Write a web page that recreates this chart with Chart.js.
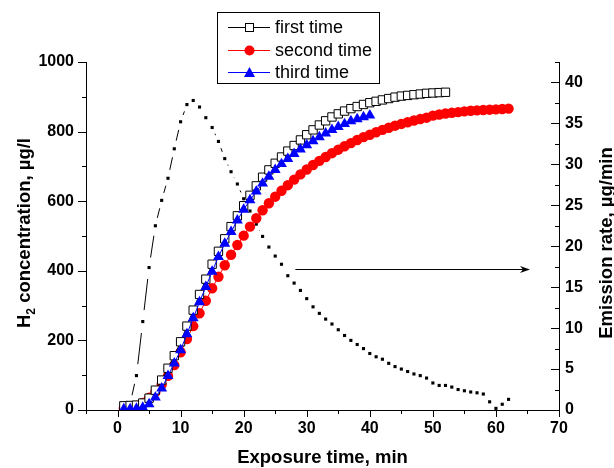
<!DOCTYPE html>
<html>
<head>
<meta charset="utf-8">
<script src="https://cdn.jsdelivr.net/npm/chart.js@4.4.1/dist/chart.umd.min.js"></script>
<style>
  html, body { margin: 0; padding: 0; background: #fff; }
</style>
</head>
<body>
<canvas id="chart" width="614" height="468"></canvas>
<script>
// exposure time, min
const minutes = [1, 2, 3, 4, 5, 6, 7, 8, 9, 10, 11, 12, 13, 14, 15, 16, 17, 18, 19, 20,
  21, 22, 23, 24, 25, 26, 27, 28, 29, 30, 31, 32, 33, 34, 35, 36, 37, 38, 39, 40,
  41, 42, 43, 44, 45, 46, 47, 48, 49, 50, 51, 52, 53, 54, 55, 56, 57, 58, 59, 60, 61, 62];

// H2 concentration, ug/l
const firstTime = [12, 13, 14, 20, 34, 57, 86, 120, 156, 196, 241, 287, 332, 376, 419, 456, 492, 527, 558, 587,
  617, 644, 669, 690, 709, 727, 744, 760, 776, 791, 805, 819, 831, 842, 851, 859, 866, 872, 878, 883,
  887, 891, 895, 899, 902, 904, 906, 908, 910, 911, 912, 913];
const secondTime = [5, 8, 12, 20, 35, 52, 73, 98, 129, 166, 204, 241, 278, 314, 350, 383, 416, 446, 474, 501,
  527, 551, 574, 594, 613, 630, 646, 662, 677, 691, 704, 716, 727, 738, 748, 758, 767, 776, 784, 791,
  798, 805, 811, 817, 822, 827, 832, 836, 840, 846, 849, 852, 854, 856, 858, 860, 861, 862, 863, 864, 865, 866];
const thirdTime = [3, 3, 4, 7, 17, 36, 62, 98, 134, 172, 218, 264, 310, 354, 398, 440, 478, 512, 545, 576,
  603, 628, 651, 671, 690, 707, 722, 736, 749, 761, 773, 784, 795, 805, 814, 822, 830, 836, 842, 847];

// emission rate, ug/min (right axis)
const emission = [0.7, 0.8, 4.2, 10.8, 17.4, 22.5, 25.6, 28.3, 31.9, 35.2, 37.3, 37.8, 37.0, 35.7, 34.5, 32.8, 30.7, 29.1, 27.6, 25.8,
  24.3, 22.7, 21.2, 19.9, 18.8, 17.8, 16.4, 15.5, 14.6, 13.6, 12.6, 11.8, 11.1, 10.5, 9.8, 9.1, 8.5, 8.0, 7.5, 6.9,
  6.5, 6.2, 5.7, 5.3, 5.0, 4.7, 4.4, 4.2, 3.9, 3.3, 3.0, 3.0, 2.8, 2.5, 2.35, 2.2, 2.1, 1.95, 1.0, 0.2, 0.7, 1.3];

const seriesNames = ["first time", "second time", "third time"];
const xTitle = "Exposure time, min";
const yTitle = [" concentration, \u00b5g/l"];
const y2Title = "Emission rate, \u00b5g/min";

const FONT = '"Liberation Sans", Arial, sans-serif';

function pts(vals) {
  return vals.map((v, i) => ({ x: minutes[i], y: v }));
}

// line with gaps around the small symbols
function segLen(c) {
  return Math.hypot(c.p1.x - c.p0.x, c.p1.y - c.p0.y);
}
function segGap(L) {
  return 5 + 0.12 * L;
}

const tickMarks = {
  id: 'tickMarks',
  afterDraw(chart) {
    const ctx = chart.ctx;
    const ca = chart.chartArea;
    ctx.save();
    ctx.strokeStyle = '#000';
    ctx.lineWidth = 1;
    ctx.beginPath();
    const sx = chart.scales.x;
    for (let v = -5; v <= 70; v += 5) {
      const px = Math.round(sx.getPixelForValue(v)) + 0.5;
      const len = v % 10 === 0 ? 7 : 4;
      ctx.moveTo(px, ca.bottom);
      ctx.lineTo(px, ca.bottom + len);
    }
    const sy = chart.scales.y;
    for (let v = 0; v <= 1000; v += 100) {
      const py = Math.round(sy.getPixelForValue(v)) + 0.5;
      const len = v % 200 === 0 ? 8 : 4;
      ctx.moveTo(ca.left, py);
      ctx.lineTo(ca.left - len, py);
    }
    const sy2 = chart.scales.y2;
    for (let v = 0; v <= 42.5; v += 2.5) {
      const py = Math.round(sy2.getPixelForValue(v)) + 0.5;
      const len = v % 5 === 0 ? 8 : 4;
      ctx.moveTo(ca.right, py);
      ctx.lineTo(ca.right - len, py);
    }
    ctx.stroke();

    // axis titles
    ctx.fillStyle = '#000';
    ctx.textBaseline = 'alphabetic';
    ctx.font = 'bold 18.5px ' + FONT;
    ctx.textAlign = 'center';
    ctx.fillText(xTitle, (ca.left + ca.right) / 2, 463);

    // left title with subscript
    ctx.save();
    ctx.translate(29.5, 233);
    ctx.rotate(-Math.PI / 2);
    ctx.textAlign = 'left';
    ctx.font = 'bold 18.5px ' + FONT;
    const wH = ctx.measureText('H').width;
    const wRest = ctx.measureText(yTitle[0]).width;
    ctx.font = 'bold 12px ' + FONT;
    const w2 = ctx.measureText('2').width;
    let x0 = -(wH + w2 + wRest) / 2;
    ctx.font = 'bold 18.5px ' + FONT;
    ctx.fillText('H', x0, 0);
    ctx.font = 'bold 12px ' + FONT;
    ctx.fillText('2', x0 + wH, 5);
    ctx.font = 'bold 18.5px ' + FONT;
    ctx.fillText(yTitle[0], x0 + wH + w2, 0);
    ctx.restore();

    ctx.save();
    ctx.translate(612, 243);
    ctx.rotate(-Math.PI / 2);
    ctx.textAlign = 'center';
    ctx.font = 'bold 18.5px ' + FONT;
    ctx.fillText(y2Title, 0, 0);
    ctx.restore();

    // legend box
    const bx = 217.5, by = 12.5, bw = 162, bh = 71;
    ctx.fillStyle = '#fff';
    ctx.fillRect(bx, by, bw, bh);
    ctx.strokeStyle = '#000';
    ctx.strokeRect(bx, by, bw, bh);
    const rows = [27, 50, 72];
    const cols = ['#000', '#ff0000', '#0000ff'];
    ctx.font = '18px ' + FONT;
    ctx.textAlign = 'left';
    ctx.textBaseline = 'middle';
    rows.forEach((ry, i) => {
      ctx.strokeStyle = cols[i];
      ctx.lineWidth = 1;
      ctx.beginPath();
      ctx.moveTo(228, ry + 0.5);
      ctx.lineTo(270, ry + 0.5);
      ctx.stroke();
      const mx = 249;
      if (i === 0) {
        ctx.fillStyle = '#fff';
        ctx.fillRect(mx - 4, ry - 4, 9, 9);
        ctx.strokeRect(mx - 3.5, ry - 3.5, 8, 8);
      } else if (i === 1) {
        ctx.fillStyle = '#ff0000';
        ctx.beginPath();
        ctx.arc(mx + 0.5, ry + 0.5, 5, 0, Math.PI * 2);
        ctx.fill();
      } else {
        ctx.fillStyle = '#0000ff';
        ctx.beginPath();
        ctx.moveTo(mx + 0.5, ry - 5);
        ctx.lineTo(mx + 6, ry + 5);
        ctx.lineTo(mx - 5, ry + 5);
        ctx.closePath();
        ctx.fill();
      }
      ctx.fillStyle = '#000';
      ctx.fillText(seriesNames[i], 275, ry + 1);
    });
    ctx.restore();
  },
  afterDatasetsDraw(chart) {
    // arrow pointing to the right axis
    const ctx = chart.ctx;
    const sx = chart.scales.x, sy2 = chart.scales.y2;
    const x1 = sx.getPixelForValue(28.2), x2 = sx.getPixelForValue(65.4);
    const y = Math.round(sy2.getPixelForValue(17.2)) + 0.5;
    ctx.save();
    ctx.strokeStyle = '#000';
    ctx.fillStyle = '#000';
    ctx.lineWidth = 1;
    ctx.beginPath();
    ctx.moveTo(x1, y);
    ctx.lineTo(x2 - 6, y);
    ctx.stroke();
    ctx.beginPath();
    ctx.moveTo(x2, y);
    ctx.lineTo(x2 - 10, y - 3.5);
    ctx.lineTo(x2 - 7, y);
    ctx.lineTo(x2 - 10, y + 3.5);
    ctx.closePath();
    ctx.fill();
    ctx.restore();
  }
};

const tickFont = { family: FONT, size: 16, weight: 'bold' };
const plain = v => String(v);

new Chart(document.getElementById('chart'), {
  type: 'line',
  data: {
    datasets: [
      {
        label: 'emission rate',
        data: pts(emission),
        yAxisID: 'y2',
        borderColor: '#000',
        borderWidth: 1,
        pointStyle: 'rect',
        pointRadius: 2.2,
        pointBackgroundColor: '#000',
        pointBorderWidth: 0,
        order: 4,
        segment: {
          borderDash: c => {
            const L = segLen(c), g = segGap(L);
            return L > 2 * g ? [L - 2 * g, 2 * g] : [0, L + 2];
          },
          borderDashOffset: c => {
            const L = segLen(c), g = segGap(L);
            return L > 2 * g ? L - g : 0;
          }
        }
      },
      {
        label: seriesNames[1],
        data: pts(secondTime),
        yAxisID: 'y',
        borderColor: '#ff0000',
        borderWidth: 1,
        pointStyle: 'circle',
        pointRadius: 5.2,
        pointBackgroundColor: '#ff0000',
        pointBorderWidth: 0,
        order: 3
      },
      {
        label: seriesNames[0],
        data: pts(firstTime),
        yAxisID: 'y',
        borderColor: '#000',
        borderWidth: 1,
        pointStyle: 'rect',
        pointRadius: 5.9,
        pointBackgroundColor: '#fff',
        pointBorderColor: '#000',
        pointBorderWidth: 1,
        order: 2
      },
      {
        label: seriesNames[2],
        data: pts(thirdTime),
        yAxisID: 'y',
        borderColor: '#0000ff',
        borderWidth: 1,
        pointStyle: 'triangle',
        pointRadius: 6.3,
        pointBackgroundColor: '#0000ff',
        pointBorderWidth: 0,
        order: 1
      }
    ]
  },
  options: {
    responsive: false,
    animation: false,
    layout: { padding: { top: 62, left: 0, right: 0, bottom: 0 } },
    plugins: { legend: { display: false }, tooltip: { enabled: false } },
    elements: { line: { tension: 0 } },
    scales: {
      x: {
        type: 'linear',
        position: 'bottom',
        min: -5,
        max: 70,
        ticks: { stepSize: 10, includeBounds: false, color: '#000', font: tickFont, padding: 9, maxRotation: 0, callback: plain },
        grid: { display: false, drawTicks: false },
        border: { display: true, color: '#000', width: 1 },
        afterFit: s => { s.height = 58; }
      },
      y: {
        type: 'linear',
        position: 'left',
        min: 0,
        max: 1000,
        ticks: { stepSize: 200, color: '#000', font: tickFont, padding: 12, callback: plain },
        grid: { display: false, drawTicks: false },
        border: { display: true, color: '#000', width: 1 },
        afterFit: s => { s.width = 86; }
      },
      y2: {
        type: 'linear',
        position: 'right',
        min: 0,
        max: 42.5,
        ticks: { stepSize: 5, includeBounds: false, color: '#000', font: tickFont, padding: 6, callback: plain },
        grid: { display: false, drawTicks: false },
        border: { display: true, color: '#000', width: 1 },
        afterFit: s => { s.width = 55; }
      }
    }
  },
  plugins: [tickMarks]
});
</script>
</body>
</html>
